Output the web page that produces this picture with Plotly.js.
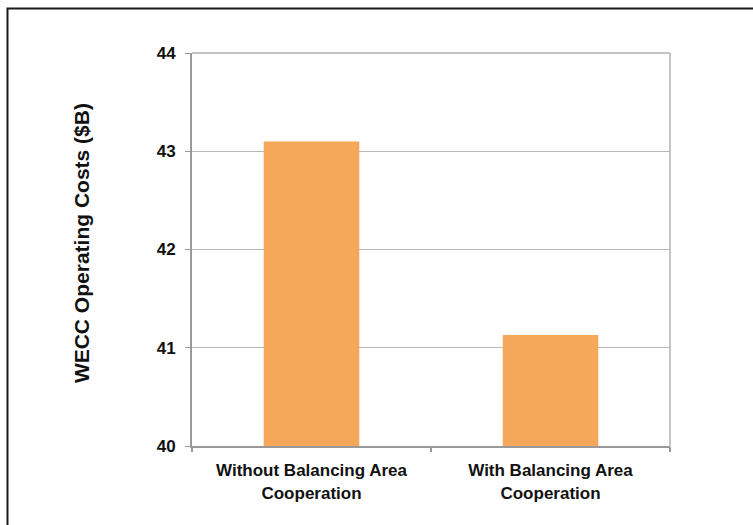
<!DOCTYPE html>
<html>
<head>
<meta charset="utf-8">
<script src="https://cdn.plot.ly/plotly-3.0.1.min.js"></script>
<style>
html,body{margin:0;padding:0;background:#fff;}
#chart{width:753px;height:525px;}
</style>
</head>
<body>
<div id="chart"></div>
<script>
// Data
var categories = ["Without Balancing Area<br>Cooperation", "With Balancing Area<br>Cooperation"];
var costs = [43.10, 41.13];
var yTickVals = [40, 41, 42, 43, 44];
var yTickText = ["40", "41", "42", "43", "44"];
var yTitle = "WECC Operating Costs ($B)";

var FONT = "Liberation Sans, Arial, sans-serif";

var trace = {
  type: "bar",
  x: categories,
  y: costs,
  marker: {color: "#F6A85A", line: {width: 0}},
  hoverinfo: "none"
};

// hidden helper trace to place between-category tick marks on overlay axis
var helper = {
  type: "scatter",
  x: [-0.5, 1.5],
  y: [40, 40],
  xaxis: "x2",
  mode: "none",
  hoverinfo: "none",
  showlegend: false
};

var layout = {
  width: 753,
  height: 525,
  margin: {l: 192, r: 83, t: 53, b: 79},
  paper_bgcolor: "#ffffff",
  plot_bgcolor: "#ffffff",
  showlegend: false,
  bargap: 0.6,
  font: {family: FONT, color: "#111111"},
  xaxis: {
    type: "category",
    tickfont: {family: FONT, size: 17, color: "#111111", weight: "bold"},
    ticks: "",
    showline: true,
    linecolor: "#999999",
    linewidth: 2,
    showgrid: false,
    zeroline: false,
    ticklabelstandoff: 8
  },
  xaxis2: {
    overlaying: "x",
    range: [-0.5, 1.5],
    tickvals: [-0.5, 0.5, 1.5],
    showticklabels: false,
    ticks: "outside",
    ticklen: 5,
    tickwidth: 2,
    tickcolor: "#999999",
    showgrid: false,
    zeroline: false,
    showline: false,
    side: "bottom"
  },
  yaxis: {
    range: [40, 44],
    tickvals: yTickVals,
    ticktext: yTickText,
    tickfont: {family: FONT, size: 17, color: "#111111", weight: "bold"},
    ticks: "outside",
    ticklen: 5,
    tickwidth: 1,
    tickcolor: "#999999",
    showline: true,
    linecolor: "#999999",
    linewidth: 2,
    showgrid: true,
    gridcolor: "#B8B8B8",
    gridwidth: 1,
    zeroline: false,
    ticklabelstandoff: 6
  },
  annotations: [
    {text: yTitle, xref: "paper", yref: "paper", x: -0.232, y: 0.5165, xanchor: "center", yanchor: "middle",
     textangle: -90, showarrow: false, font: {family: FONT, size: 21, color: "#111111", weight: "bold"}}
  ],
  shapes: [
    {type: "line", xref: "paper", yref: "paper", x0: 0, x1: 1, y0: 1, y1: 1, line: {color: "#C4C4C4", width: 2}, layer: "below"},
    {type: "line", xref: "paper", yref: "paper", x0: 1, x1: 1, y0: 0, y1: 1, line: {color: "#C4C4C4", width: 2}, layer: "below"},
    {type: "rect", xref: "paper", yref: "paper", x0: -0.386, x1: 1.4, y0: -0.5, y1: 1.113, line: {color: "#1a1a1a", width: 2}, fillcolor: "rgba(0,0,0,0)"}
  ]
};

Plotly.newPlot("chart", [trace, helper], layout, {staticPlot: true, displayModeBar: false});
</script>
</body>
</html>
